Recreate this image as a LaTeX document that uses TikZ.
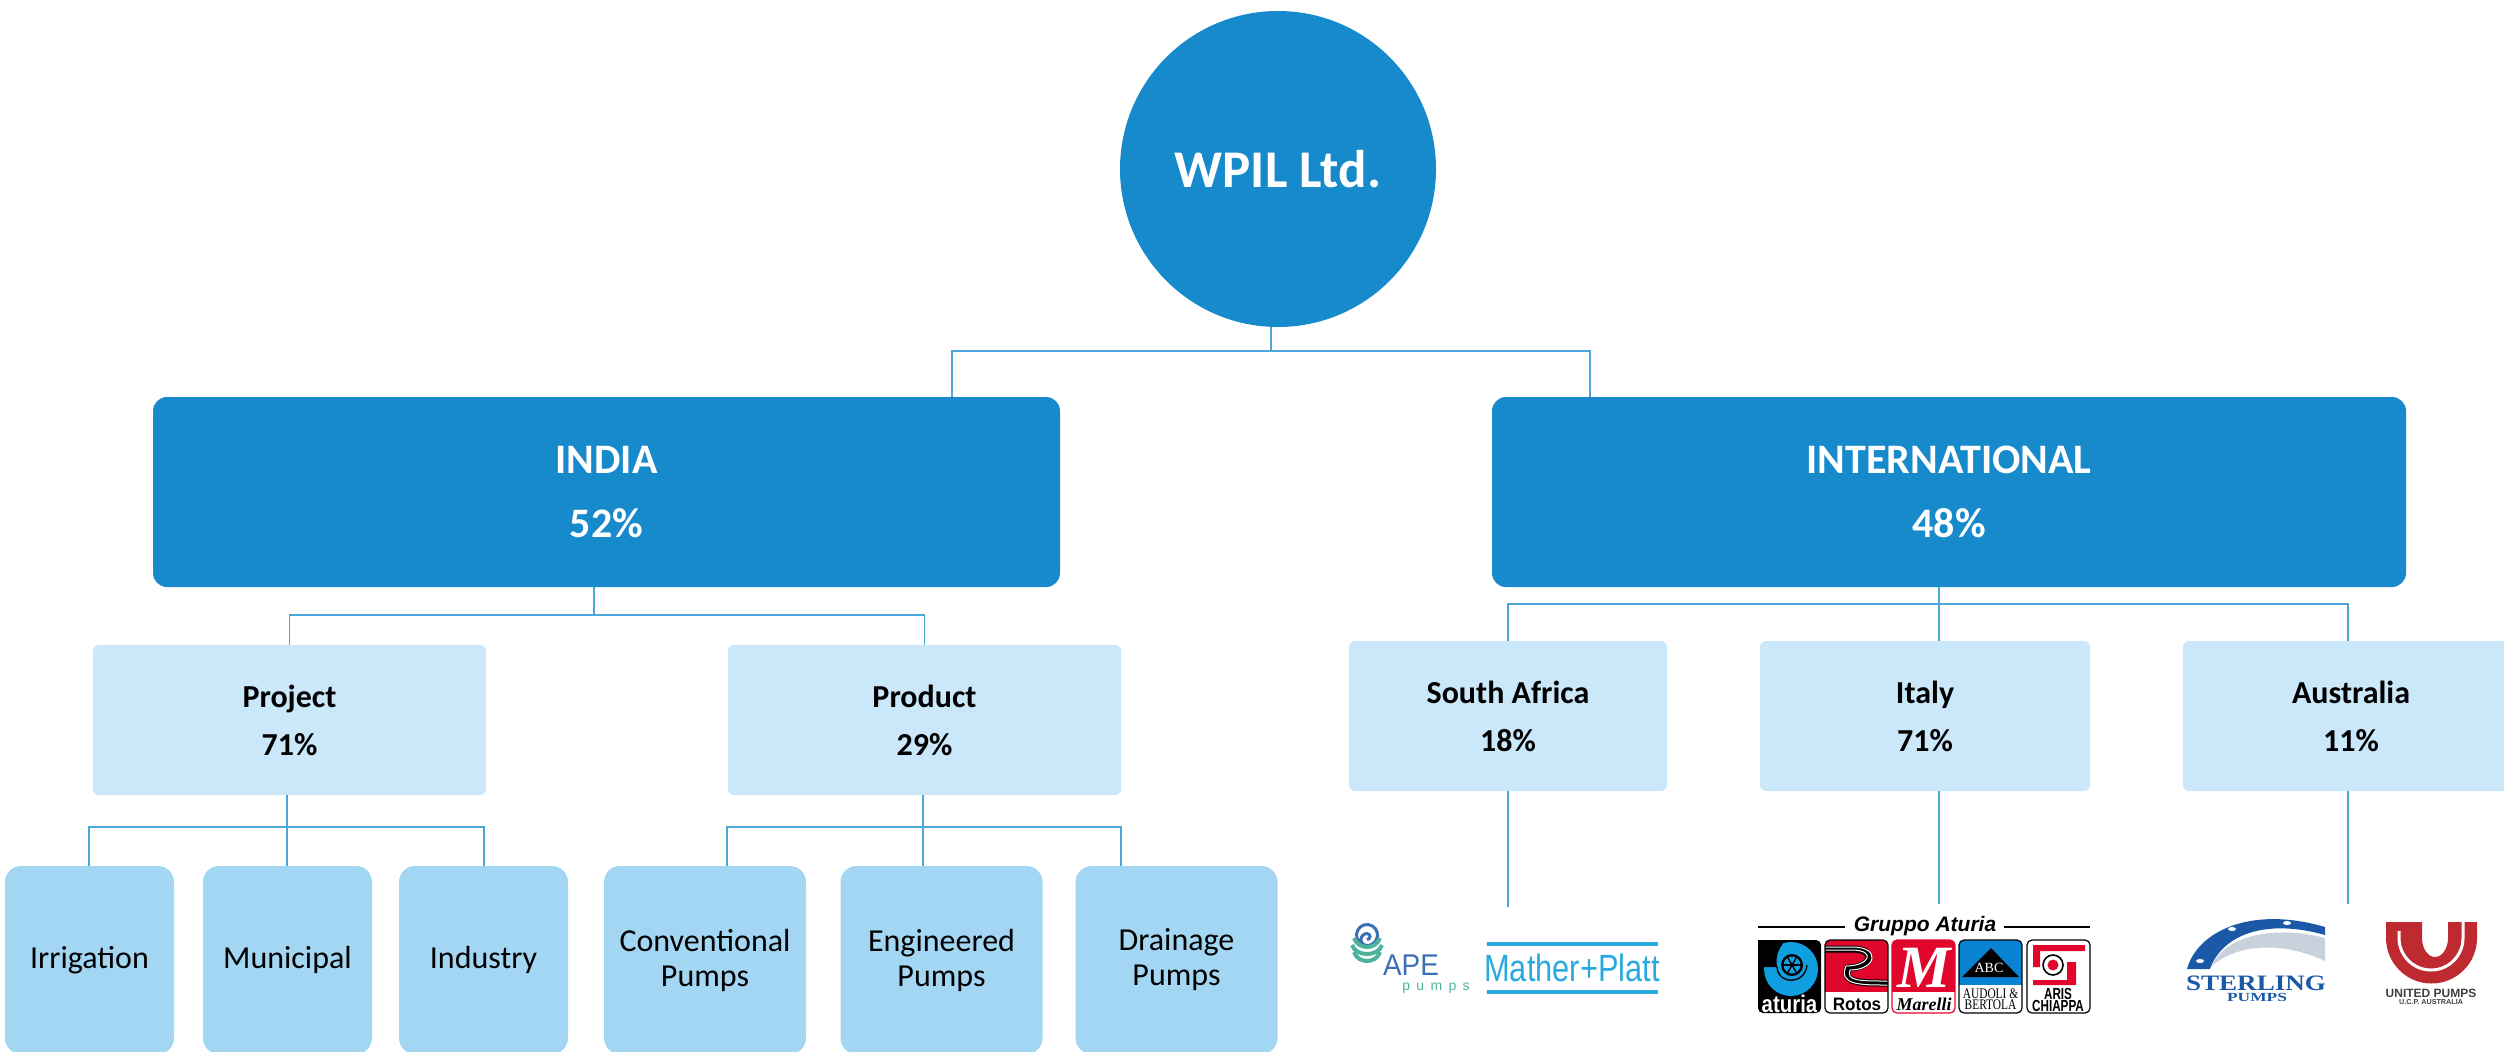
\documentclass[tikz,border=0pt]{standalone}
\usepackage{fontspec}
\setmainfont{Carlito}
\newfontfamily\logosans{Liberation Sans}
\newfontfamily\logoserif{Liberation Serif}
\usetikzlibrary{calc}
\definecolor{wpilblue}{HTML}{178ACC}
\definecolor{paleblue}{HTML}{CAE8F9}
\definecolor{midblue}{HTML}{A3D6F2}
\definecolor{linkblue}{HTML}{4CA6D9}
\definecolor{apeblue}{HTML}{3B6FB6}
\definecolor{apegreen}{HTML}{4DB39A}
\definecolor{matherblue}{HTML}{29A9E0}
\definecolor{aturiablue}{HTML}{0F9FE0}
\definecolor{logored}{HTML}{E0062C}
\definecolor{abcblue}{HTML}{0A82D2}
\definecolor{sterlingblue}{HTML}{1B59A6}
\definecolor{sterlinggrey}{HTML}{C9D2DC}
\definecolor{unitedred}{HTML}{BE2A30}
\newcommand{\squeeze}[2]{\scalebox{#1}[1]{#2}}
\tikzset{
  headbox/.style={fill=wpilblue,text=white,rounded corners=7pt,minimum width=#1,minimum height=95pt,inner sep=0pt,align=center,font=\fontsize{21}{32}\selectfont\bfseries},
  subbox/.style={fill=paleblue,rounded corners=3pt,minimum width=#1,minimum height=75pt,inner sep=0pt,align=center,font=\fontsize{16}{24}\selectfont\bfseries},
  leafbox/.style={fill=midblue,rounded corners=8pt,minimum width=#1,minimum height=94pt,inner sep=0pt,align=center,font=\fontsize{16}{17.5}\selectfont},
  link/.style={draw=linkblue,line width=0.7pt},
  tile/.style={rounded corners=2.5pt,line width=0.6pt},
}
\begin{document}
\begin{tikzpicture}[x=0.5pt,y=-0.5pt]
\useasboundingbox (0,0) rectangle (2504,1051);

\node[circle,fill=wpilblue,text=white,minimum size=158pt,inner sep=0pt,font=\fontsize{26.5}{32}\selectfont\bfseries] (wpil) at (1278,169) {WPIL Ltd.};

\node[headbox=453.5pt] (india) at (606.5,492) {INDIA\\52\%};
\node[headbox=457pt] (intl) at (1949,492) {INTERNATIONAL\\48\%};

\node[subbox=196.5pt] (project) at (289.5,720) {Project\\71\%};
\node[subbox=196.5pt] (product) at (924.5,720) {Product\\29\%};
\node[subbox=159pt] (safrica) at (1508,716) {South Africa\\18\%};
\node[subbox=165pt] (italy) at (1925,716) {Italy\\71\%};
\node[subbox=168pt] (australia) at (2351,716) {Australia\\11\%};

\node[leafbox=84.5pt] (irrigation) at (89.5,960) {Irrigation};
\node[leafbox=84.5pt] (municipal) at (287.5,960) {Municipal};
\node[leafbox=84.5pt] (industry) at (483.5,960) {Industry};
\node[leafbox=101pt] (conventional) at (705,960) {Conventional\\Pumps};
\node[leafbox=101pt] (engineered) at (941.5,960) {Engineered\\Pumps};
\node[leafbox=101pt] (drainage) at (1176.5,960) {Drainage\\Pumps};

\coordinate (rootleft) at (952,351);
\coordinate (rootright) at (1590,351);
\coordinate (rootmid) at (1271,351);
\coordinate (indiamid) at (594,615);
\coordinate (prjmid) at (287,827);
\coordinate (prjleft) at (89,827);
\coordinate (prjright) at (484,827);
\coordinate (prdmid) at (923,827);
\coordinate (prdleft) at (727,827);
\coordinate (prdright) at (1121,827);
\coordinate (intlmid) at (1939,604);
\coordinate (saend) at (1508,907);
\coordinate (itend) at (1939,904);
\coordinate (auend) at (2348,904);

\draw[link] (rootmid |- wpil.south)--(rootmid);
\draw[link] (rootleft |- india.north)--(rootleft)--(rootright)--(rootright |- intl.north);

\draw[link] (indiamid |- india.south)--(indiamid);
\draw[link] (project.north)--(project.north |- indiamid)--(product.north |- indiamid)--(product.north);

\draw[link] (prjmid |- project.south)--(prjmid |- irrigation.north);
\draw[link] (prjleft |- irrigation.north)--(prjleft)--(prjright)--(prjright |- industry.north);
\draw[link] (prdmid |- product.south)--(prdmid |- conventional.north);
\draw[link] (prdleft |- conventional.north)--(prdleft)--(prdright)--(prdright |- drainage.north);

\draw[link] (intlmid |- intl.south)--(intlmid |- italy.north);
\draw[link] (saend |- safrica.north)--(saend |- intlmid)--(auend |- intlmid)--(auend |- australia.north);

\draw[link] (saend |- safrica.south)--(saend);
\draw[link] (itend |- italy.south)--(itend);
\draw[link] (auend |- australia.south)--(auend);

% APE
\draw[apeblue,line width=1.5pt] (1361.75,944.1) arc (120:450:10.5) arc (90:270:6) arc (270:450:3);
\foreach \d/\w in {0/13,7/15,14/13}
  \draw[apegreen,line width=2pt] (1367-\w,938+\d) .. controls (1367-\w+4,950+\d) and (1367+\w-4,950+\d) .. (1367+\w,938+\d);
\node[text=apeblue,font=\logosans\fontsize{15}{15}\selectfont,inner sep=0pt] (ape) at (1411,965) {\squeeze{0.93}{APE}};
\node[text=apegreen,font=\logosans\fontsize{7}{7}\selectfont\addfontfeature{LetterSpace=45},inner sep=0pt] (apepumps) at (1436,988) {pumps};

% Mather+Platt
\node[text=matherblue,font=\logosans\fontsize{19}{19}\selectfont,inner sep=0pt] (mather) at (1572,968) {\squeeze{0.81}{Mather+Platt}};
\draw[matherblue,line width=1.6pt] (1487,944)--(1658,944) (1487,992)--(1658,992);

% Gruppo Aturia
\node[font=\logosans\fontsize{10.5}{11}\selectfont\bfseries\itshape,inner sep=0pt] (gruppo) at (1925,926) {Gruppo Aturia};
\draw[line width=0.8pt] (1758,927)--(1845,927) (2004,927)--(2090,927);

\fill[black,tile] (1758,940) rectangle (1821,1013);
\fill[aturiablue] (1791,969) circle (27);
\fill[black] (1758,940)--(1785,940)--(1780,948) .. controls (1776,955) and (1776,962) .. (1777,967)--(1758,967)--cycle;
\draw[black,line width=0.7pt] (1777,967) .. controls (1778,985) and (1805,985) .. (1807,965);
\fill[black] (1792,965) circle (11);
\fill[aturiablue] (1792,965) circle (8.5);
\fill[black] (1792,965) circle (2);
\foreach \a in {0,60,...,300}
  \draw[black,line width=0.7pt] (1792,965)--++(\a:9);
\fill[black] (1758,996) rectangle (1821,1000);
\node[text=white,font=\logosans\fontsize{12}{12}\selectfont\bfseries,inner sep=0pt] (aturia) at (1789.5,1004) {\squeeze{0.85}{aturia}};

\begin{scope}
\clip[rounded corners=2.5pt] (1825,940) rectangle (1888,1013);
\fill[logored] (1825,940) rectangle (1888,992);
\draw[black,line width=3.5pt] (1825,949) -- (1852,949) .. controls (1878,949) and (1872,968) .. (1848,968) .. controls (1842,983) and (1860,983) .. (1888,983);
\draw[white,line width=0.5pt] (1825,947) -- (1852,947) .. controls (1882,947) and (1876,970) .. (1850,970) .. controls (1846,981) and (1860,981) .. (1888,981);
\draw[white,line width=0.5pt] (1825,950) -- (1852,950) .. controls (1876,950) and (1870,966) .. (1846,966) .. controls (1838,985) and (1860,985) .. (1888,985);
\end{scope}
\draw[black,tile] (1825,940) rectangle (1888,1013);
\node[font=\logosans\fontsize{9}{10}\selectfont\bfseries,inner sep=0pt] (rotos) at (1857,1004) {\squeeze{0.95}{Rotos}};

\begin{scope}
\clip[rounded corners=2.5pt] (1892,940) rectangle (1955,1013);
\fill[logored] (1892,940) rectangle (1955,992);
\end{scope}
\draw[logored,tile] (1892,940) rectangle (1955,1013);
\node[text=white,font=\logoserif\fontsize{30}{30}\selectfont\bfseries\itshape,inner sep=0pt] (marellim) at (1924,968) {M};
\node[font=\logoserif\fontsize{9}{9}\selectfont\bfseries\itshape,inner sep=0pt] (marelli) at (1924,1004) {Marelli};

\begin{scope}
\clip[rounded corners=2.5pt] (1959,940) rectangle (2022,1013);
\fill[abcblue] (1959,940) rectangle (2022,985);
\end{scope}
\fill[black] (1991,948)--(2019,977)--(1962,977)--cycle;
\draw[black,tile] (1959,940) rectangle (2022,1013);
\node[text=white,font=\logoserif\fontsize{7}{7}\selectfont,inner sep=0pt] (abc) at (1989,968) {ABC};
\node[align=center,font=\logoserif\fontsize{7.3}{5.8}\selectfont,inner sep=0pt] (audoli) at (1990.5,999) {\squeeze{0.78}{AUDOLI \&}\\\squeeze{0.78}{BERTOLA}};

\draw[black,tile] (2027,940) rectangle (2090,1013);
\fill[logored] (2033,945)--(2085,945)--(2085,951)--(2040,951)--(2040,967)--(2033,967)--cycle;
\fill[logored] (2033,980)--(2067,980)--(2067,962)--(2076,962)--(2076,985)--(2033,985)--cycle;
\fill[white] (2053,965) circle (11);
\draw[black,line width=0.8pt] (2053,965) circle (10);
\fill[logored] (2053,965) circle (5.5);
\node[align=center,font=\logosans\fontsize{8}{6.2}\selectfont\bfseries,inner sep=0pt] (aris) at (2058,1000) {\squeeze{0.73}{ARIS}\\\squeeze{0.73}{CHIAPPA}};

% Sterling
\fill[sterlingblue] (2187,969) .. controls (2197,932) and (2250,905) .. (2325,927) -- (2325,935) .. controls (2265,918) and (2222,935) .. (2210,969) -- cycle;
\fill[sterlinggrey] (2212,966) .. controls (2225,935) and (2275,925) .. (2325,938) -- (2325,961) .. controls (2280,940) and (2235,945) .. (2212,966) -- cycle;
\fill[white] (2200,961) ellipse (4 and 2) (2232,929) ellipse (4 and 2) (2287,923) ellipse (4 and 2);
\node[text=sterlingblue,font=\logoserif\fontsize{11}{12}\selectfont\bfseries,inner sep=0pt] (sterling) at (2256,983) {\squeeze{1.23}{STERLING}};
\node[text=sterlingblue,font=\logoserif\fontsize{6.2}{7}\selectfont\bfseries,inner sep=0pt] (sterlingpumps) at (2257,997) {\squeeze{1.4}{PUMPS}};

% United
\fill[unitedred] (2386,922)--(2386,938) arc (180:0:45.5)--(2477,922)--(2448,922)--(2448,938) arc (0:180:13 and 19)--(2422,922)--cycle;
\draw[white,line width=1.5pt] (2399,931)--(2399,938) arc (180:0:32)--(2463,922);
\node[text=black!75,font=\logosans\fontsize{6}{7}\selectfont\bfseries,inner sep=0pt] (united) at (2431,993) {UNITED PUMPS};
\node[text=black!75,font=\logosans\fontsize{3.6}{4}\selectfont\bfseries,inner sep=0pt] (ucp) at (2431,1002) {U.C.P. AUSTRALIA};
\end{tikzpicture}
\end{document}
